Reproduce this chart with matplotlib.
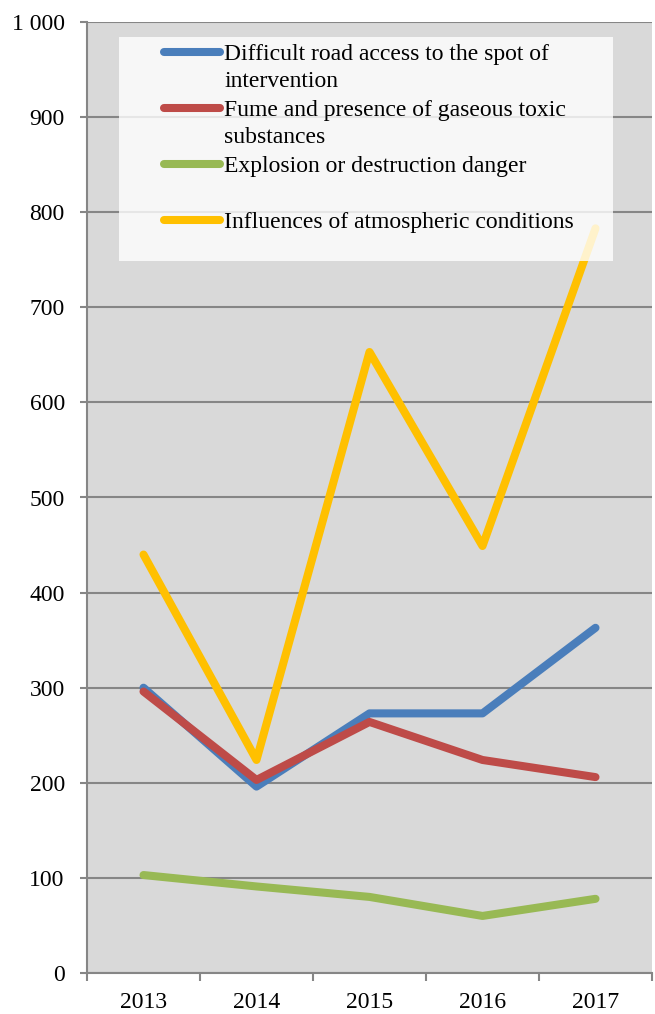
import matplotlib
matplotlib.use("Agg")
import matplotlib.pyplot as plt
from matplotlib.lines import Line2D
from matplotlib.patches import Rectangle
from matplotlib.ticker import FixedLocator, FuncFormatter

years = ["2013", "2014", "2015", "2016", "2017"]
road_access = [300, 196, 273, 273, 363]
fume_toxic = [296, 203, 264, 224, 206]
explosion = [103, 91, 80, 60, 78]
atmospheric = [440, 224, 653, 449, 783]

labels = [
    ["Difficult road access to the spot of", "intervention"],
    ["Fume and presence of gaseous toxic", "substances"],
    ["Explosion or destruction danger"],
    ["Influences of atmospheric conditions"],
]
colors = ["#4a7ebb", "#be4b48", "#98b954", "#ffc000"]
series = [road_access, fume_toxic, explosion, atmospheric]

plt.rcParams["font.family"] = ["Liberation Serif", "DejaVu Serif"]

fig = plt.figure(figsize=(6.55, 10.14), dpi=100)
ax = fig.add_axes([87 / 655, 1 - 973 / 1014, (652 - 87) / 655, (973 - 22) / 1014])
ax.set_facecolor("#d9d9d9")

x = list(range(len(years)))
for vals, c in zip(series, colors):
    ax.plot(x, vals, color=c, lw=5.8, solid_capstyle="round", solid_joinstyle="round", zorder=3)

ax.set_xlim(-0.5, len(years) - 0.5)
ax.set_ylim(0, 1000)
ax.yaxis.set_major_locator(FixedLocator(range(0, 1001, 100)))
ax.yaxis.set_major_formatter(FuncFormatter(lambda v, p: f"{int(v):,}".replace(",", " ")))
ax.grid(axis="y", color="#868686", lw=1.5, zorder=1)
ax.set_axisbelow(True)

ax.set_xticks(x)
ax.set_xticklabels(years)
ax.set_xticks([i - 0.5 for i in range(len(years) + 1)], minor=True)
ax.tick_params(axis="x", which="major", length=0, pad=14, labelsize=17)
ax.tick_params(axis="x", which="minor", length=6, width=1.5, color="#868686")
ax.tick_params(axis="y", length=5, width=1.5, color="#868686", pad=11, labelsize=17)

for s in ["top", "right"]:
    ax.spines[s].set_visible(False)
for s in ["left", "bottom"]:
    ax.spines[s].set_color("#868686")
    ax.spines[s].set_linewidth(1.5)

# legend (manual, to keep handle aligned with first text line)
ax.add_patch(Rectangle((0.0566, 0.7487), 0.931 - 0.0566, 0.984 - 0.7487, transform=ax.transAxes,
                       facecolor="white", alpha=0.8, edgecolor="none", zorder=5))
ys = [0.9685, 0.9096, 0.8507, 0.7918]
for lab, c, yy in zip(labels, colors, ys):
    ax.add_line(Line2D([0.136, 0.236], [yy, yy], transform=ax.transAxes, color=c, lw=5.8,
                       solid_capstyle="round", zorder=6))
    ax.text(0.2425, yy + 0.0084, "\n".join(lab), transform=ax.transAxes, fontsize=17,
            va="top", ha="left", zorder=7, linespacing=1.4)

fig.savefig("out.png", dpi=100)
